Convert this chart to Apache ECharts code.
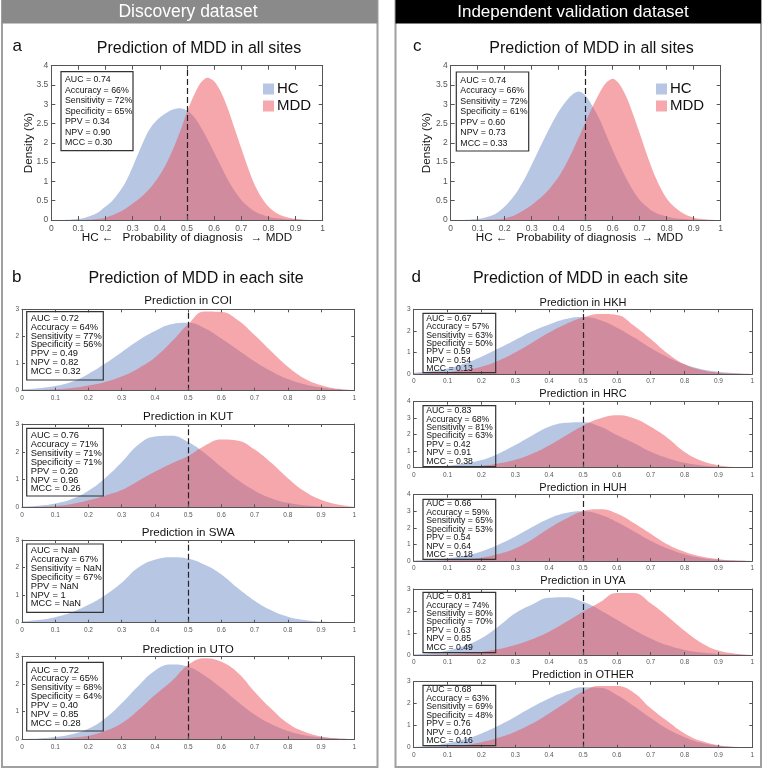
<!DOCTYPE html>
<html><head><meta charset="utf-8">
<script src="https://cdn.jsdelivr.net/npm/echarts@6/dist/echarts.min.js"></script>
<style>html,body{margin:0;padding:0;background:#fff}#c{width:763px;height:769px}</style>
</head><body><div id="c"></div><script>
// ---------- DATA ----------
const xs = [0,0.05,0.1,0.15,0.2,0.25,0.3,0.35,0.4,0.45,0.5,0.55,0.6,0.65,0.7,0.75,0.8,0.85,0.9,0.95,1];
const xsFine = [0,0.025,0.05,0.075,0.1,0.125,0.15,0.175,0.2,0.225,0.25,0.275,0.3,0.325,0.35,0.375,0.4,0.425,0.45,0.475,
  0.5,0.525,0.55,0.575,0.6,0.625,0.65,0.675,0.7,0.725,0.75,0.775,0.8,0.825,0.85,0.875,0.9,0.925,0.95,0.975,1];
const seriesNames = ['HC','MDD'];

const allDisc_HC  = [0,0,0,0.01,0.03,0.06,0.12,0.21,0.35,0.5,0.72,1.0,1.38,1.8,2.2,2.48,2.66,2.78,2.87,2.9,
  2.84,2.68,2.42,2.1,1.75,1.4,1.05,0.76,0.52,0.35,0.22,0.14,0.08,0.05,0.03,0.01,0.01,0,0,0,0];
const allDisc_MDD = [0,0,0,0,0,0,0.01,0.03,0.06,0.12,0.2,0.3,0.43,0.56,0.72,0.92,1.17,1.48,1.86,2.3,
  2.8,3.22,3.55,3.69,3.6,3.32,2.9,2.38,1.86,1.35,0.9,0.58,0.35,0.2,0.11,0.06,0.03,0.01,0,0,0];
const allVal_HC   = [0,0,0,0.01,0.03,0.06,0.11,0.2,0.35,0.54,0.78,1.08,1.43,1.8,2.16,2.5,2.81,3.06,3.25,3.33,
  3.22,2.95,2.63,2.22,1.81,1.43,1.08,0.77,0.52,0.35,0.22,0.14,0.09,0.05,0.03,0.02,0.01,0,0,0,0];
const allVal_MDD  = [0,0,0,0,0,0,0.01,0.02,0.04,0.09,0.17,0.27,0.39,0.53,0.69,0.89,1.12,1.42,1.77,2.15,
  2.55,2.93,3.28,3.55,3.66,3.52,3.2,2.75,2.25,1.73,1.25,0.86,0.56,0.36,0.22,0.12,0.06,0.03,0.01,0,0];

const COI_HC  = [0.05,0.09,0.17,0.33,0.62,1.0,1.42,1.85,2.2,2.45,2.5,2.3,1.92,1.5,1.08,0.72,0.43,0.24,0.12,0.05,0.02];
const COI_MDD = [0.01,0.02,0.05,0.1,0.19,0.32,0.52,0.82,1.22,1.8,2.45,2.92,2.9,2.6,2.05,1.45,0.88,0.45,0.2,0.07,0.02];
const KUT_HC  = [0.03,0.06,0.14,0.3,0.6,1.05,1.62,2.25,2.55,2.58,2.35,1.95,1.45,0.98,0.6,0.33,0.16,0.07,0.03,0.01,0];
const KUT_MDD = [0.01,0.02,0.05,0.12,0.25,0.42,0.62,0.95,1.28,1.58,1.85,2.22,2.44,2.4,2.08,1.6,1.05,0.58,0.27,0.1,0.03];
const SWA_HC  = [0.05,0.1,0.2,0.38,0.65,1.0,1.45,2.0,2.28,2.37,2.32,2.1,1.75,1.25,0.8,0.45,0.22,0.1,0.04,0.01,0];
const SWA_MDD = [];
const UTO_HC  = [0.01,0.03,0.08,0.18,0.38,0.75,1.3,1.93,2.48,2.7,2.62,2.3,1.85,1.35,0.9,0.55,0.3,0.15,0.07,0.03,0.01];
const UTO_MDD = [0,0.01,0.02,0.06,0.13,0.3,0.58,1.05,1.6,2.1,2.69,2.93,2.8,2.4,1.72,1.1,0.58,0.27,0.1,0.03,0.01];

const HKH_HC  = [0.06,0.13,0.26,0.48,0.8,1.18,1.58,1.98,2.3,2.55,2.64,2.5,2.15,1.7,1.2,0.78,0.45,0.22,0.1,0.04,0.01];
const HKH_MDD = [0.01,0.03,0.08,0.18,0.34,0.62,1.0,1.45,1.92,2.32,2.62,2.78,2.74,2.25,1.62,0.95,0.45,0.18,0.06,0.02,0];
const HRC_HC  = [0.03,0.06,0.12,0.25,0.46,0.85,1.37,1.95,2.48,2.72,2.76,2.5,1.98,1.5,0.97,0.58,0.3,0.14,0.06,0.02,0.01];
const HRC_MDD = [0,0.01,0.02,0.05,0.11,0.25,0.48,0.85,1.35,1.95,2.55,2.98,3.18,3.0,2.48,1.8,0.95,0.42,0.15,0.04,0.01];
const HUH_HC  = [0.03,0.07,0.16,0.32,0.58,0.98,1.48,2.05,2.57,2.9,3.0,2.8,2.35,1.8,1.22,0.75,0.4,0.18,0.07,0.02,0.01];
const HUH_MDD = [0,0.01,0.04,0.1,0.2,0.42,0.76,1.3,1.97,2.55,3.0,3.12,2.87,2.3,1.65,1.0,0.56,0.27,0.11,0.04,0.01];
const UYA_HC  = [0.03,0.08,0.2,0.42,0.76,1.3,1.9,2.3,2.6,2.63,2.42,2.05,1.6,1.15,0.75,0.44,0.23,0.11,0.05,0.02,0];
const UYA_MDD = [0,0.01,0.03,0.07,0.14,0.27,0.46,0.72,1.06,1.5,1.97,2.4,2.82,2.82,2.35,1.75,1.1,0.55,0.2,0.06,0.01];
const OTHER_HC  = [0.03,0.09,0.2,0.38,0.65,1.0,1.41,1.85,2.24,2.55,2.75,2.72,2.4,1.9,1.35,0.85,0.48,0.22,0.09,0.03,0.01];
const OTHER_MDD = [0,0.02,0.05,0.12,0.25,0.45,0.73,1.1,1.56,2.05,2.55,2.8,2.8,2.5,1.79,1.2,0.65,0.3,0.11,0.04,0.01];

const statLabels = ['AUC','Accuracy','Sensitivity','Specificity','PPV','NPV','MCC'];
const allDisc_stats = ['0.74','66%','72%','65%','0.34','0.90','0.30'];
const allVal_stats  = ['0.74','66%','72%','61%','0.60','0.73','0.33'];
const COI_stats = ['0.72','64%','77%','56%','0.49','0.82','0.32'];
const KUT_stats = ['0.76','71%','71%','71%','0.20','0.96','0.26'];
const SWA_stats = ['NaN','67%','NaN','67%','NaN','1','NaN'];
const UTO_stats = ['0.72','65%','68%','64%','0.40','0.85','0.28'];
const HKH_stats = ['0.67','57%','63%','50%','0.59','0.54','0.13'];
const HRC_stats = ['0.83','68%','81%','63%','0.42','0.91','0.38'];
const HUH_stats = ['0.66','59%','65%','53%','0.54','0.64','0.18'];
const UYA_stats = ['0.81','74%','80%','70%','0.63','0.85','0.49'];
const OTHER_stats = ['0.68','63%','69%','48%','0.76','0.40','0.16'];

const threshold = 0.5;

// ---------- LAYOUT / STYLE ----------
const FONT = "'Liberation Sans', Arial, Helvetica, sans-serif";
const HC_COLOR = 'rgb(109,141,199)';
const MDD_COLOR = 'rgb(236,80,90)';
const AX = '#555';

const plots = [
  {title:null, x:xsFine, hc:allDisc_HC, mdd:allDisc_MDD, st:allDisc_stats, ymax:4, yint:0.5, main:true,
   g:[51.3,65.7,271.4,154.3], box:[61,71.7,72,79], first:80, lh:10.5, fs:8.8, tx:4},
  {title:null, x:xsFine, hc:allVal_HC, mdd:allVal_MDD, st:allVal_stats, ymax:4, yint:0.5, main:true,
   g:[450.7,65.7,270,154.3], box:[456.3,72,72.4,79], first:80.3, lh:10.5, fs:8.8, tx:4},
  {title:'Prediction in COI', x:xs, hc:COI_HC, mdd:COI_MDD, st:COI_stats, ymax:3, yint:1,
   g:[22,309.3,332.3,81.4], box:[26.7,311.7,76.6,68.3], first:318.3, lh:8.85, fs:9.3, tx:4, ty:301, fsT:11.6},
  {title:'Prediction in KUT', x:xs, hc:KUT_HC, mdd:KUT_MDD, st:KUT_stats, ymax:3, yint:1,
   g:[22,424,332.3,83.3], box:[26.7,428.3,76.6,67.7], first:435.7, lh:8.85, fs:9.3, tx:4, ty:416.7, fsT:11.6},
  {title:'Prediction in SWA', x:xs, hc:SWA_HC, mdd:SWA_MDD, st:SWA_stats, ymax:3, yint:1,
   g:[22,540,332.3,82.7], box:[26.7,544,76.6,68.3], first:550.7, lh:8.85, fs:9.3, tx:4, ty:532.7, fsT:11.6},
  {title:'Prediction in UTO', x:xs, hc:UTO_HC, mdd:UTO_MDD, st:UTO_stats, ymax:3, yint:1,
   g:[22,656.3,332.3,83], box:[26.7,662.3,76.6,68.7], first:670, lh:8.85, fs:9.3, tx:4, ty:649.3, fsT:11.6},
  {title:'Prediction in HKH', x:xs, hc:HKH_HC, mdd:HKH_MDD, st:HKH_stats, ymax:3, yint:1,
   g:[413.7,309.3,338.6,64.7], box:[423,313.3,72.7,59.4], first:318.3, lh:8.45, fs:8.7, tx:3.3, ty:302.7, fsT:11},
  {title:'Prediction in HRC', x:xs, hc:HRC_HC, mdd:HRC_MDD, st:HRC_stats, ymax:4, yint:1,
   g:[413.7,401.7,338.6,66], box:[423,405.7,72.7,61], first:410.7, lh:8.45, fs:8.7, tx:3.3, ty:394.3, fsT:11},
  {title:'Prediction in HUH', x:xs, hc:HUH_HC, mdd:HUH_MDD, st:HUH_stats, ymax:4, yint:1,
   g:[413.7,494.7,338.6,66.3], box:[423,499.3,72.7,60], first:504, lh:8.45, fs:8.7, tx:3.3, ty:488.3, fsT:11},
  {title:'Prediction in UYA', x:xs, hc:UYA_HC, mdd:UYA_MDD, st:UYA_stats, ymax:3, yint:1,
   g:[413.7,589,338.6,66], box:[423,592.3,72.7,60.4], first:596.7, lh:8.45, fs:8.7, tx:3.3, ty:580.5, fsT:11},
  {title:'Prediction in OTHER', x:xs, hc:OTHER_HC, mdd:OTHER_MDD, st:OTHER_stats, ymax:3, yint:1,
   g:[413.7,681.7,338.6,66], box:[423,685.3,72.7,60.4], first:690, lh:8.45, fs:8.7, tx:3.3, ty:675, fsT:11}
];

const grids = [], xAxes = [], yAxes = [], series = [], graphics = [];

// panels and headers
graphics.push(
  {type:'rect', shape:{x:2,y:1,width:375.5,height:766}, style:{fill:'none',stroke:'#a0a0a0',lineWidth:2}, z:1},
  {type:'rect', shape:{x:2,y:0,width:375.5,height:23.5}, style:{fill:'#8a8a8a'}, z:2},
  {type:'text', x:188, y:12.3, style:{text:'Discovery dataset', fill:'#fff', font:'17.5px '+FONT, textAlign:'center', textVerticalAlign:'middle'}, z:3},
  {type:'rect', shape:{x:395.5,y:1,width:365.5,height:766}, style:{fill:'none',stroke:'#a0a0a0',lineWidth:2}, z:1},
  {type:'rect', shape:{x:395.5,y:0,width:365.5,height:23.5}, style:{fill:'#000'}, z:2},
  {type:'text', x:573, y:12.3, style:{text:'Independent validation dataset', fill:'#fff', font:'17px '+FONT, textAlign:'center', textVerticalAlign:'middle'}, z:3}
);
function txt(t, x, y, size, align, extra){
  return Object.assign({type:'text', x:x, y:y, z:20, style:{text:t, fill:'#111', font:size+'px '+FONT, textAlign:align||'left', textVerticalAlign:'middle'}}, extra||{});
}
graphics.push(
  txt('a', 12.5, 46.7, 17), txt('Prediction of MDD in all sites', 199, 48.7, 16, 'center'),
  txt('c', 413, 46.7, 17), txt('Prediction of MDD in all sites', 591.5, 48.7, 16, 'center'),
  txt('b', 12, 277.7, 17), txt('Prediction of MDD in each site', 196, 278.3, 16, 'center'),
  txt('d', 411.5, 277.7, 17), txt('Prediction of MDD in each site', 580.5, 278.3, 16, 'center'),
  txt('HC ←', 81.7, 237.8, 11.7), txt('Probability of diagnosis', 182.7, 237.8, 11.7, 'center'), txt('→ MDD', 250.7, 237.8, 11.7),
  txt('HC ←', 475.7, 237.8, 11.7), txt('Probability of diagnosis', 576.3, 237.8, 11.7, 'center'), txt('→ MDD', 641.7, 237.8, 11.7),
  txt('Density (%)', 29, 143, 11.7, 'center', {rotation:Math.PI/2}),
  txt('Density (%)', 426.3, 143, 11.7, 'center', {rotation:Math.PI/2})
);

plots.forEach((p, i) => {
  const [gl, gt, gw, gh] = p.g;
  grids.push({left:gl, top:gt, width:gw, height:gh, containLabel:false});
  const tickLen = p.main ? 4 : 3;
  const lab = p.main ? 8.5 : 6.5;
  const common = {gridIndex:i, type:'value', min:0, z:10, splitLine:{show:false},
    axisLine:{show:true, onZero:false, lineStyle:{color:AX, width:1}},
    axisTick:{show:true, inside:true, length:tickLen, lineStyle:{color:AX, width:1}}};
  xAxes.push(Object.assign({}, common, {max:1, interval:0.1, position:'bottom',
    axisLabel:{fontSize:lab, color:'#555', margin:4, fontFamily:FONT}}));
  xAxes.push(Object.assign({}, common, {max:1, interval:0.1, position:'top', axisLabel:{show:false}}));
  yAxes.push(Object.assign({}, common, {max:p.ymax, interval:p.yint, position:'left',
    axisLabel:{fontSize:lab, color:'#555', margin:3, fontFamily:FONT}}));
  yAxes.push(Object.assign({}, common, {max:p.ymax, interval:p.yint, position:'right', axisLabel:{show:false}}));
  const k = 2*i;
  const mk = {silent:true, symbol:['none','none'], label:{show:false}, animation:false,
    lineStyle:{color:'#222', type:[6,3], width:1.2}, data:[{xAxis:threshold}]};
  const defs = [[seriesNames[0], p.hc, HC_COLOR],[seriesNames[1], p.mdd, MDD_COLOR]].filter(d => d[1].length);
  defs.forEach((d, j) => {
    const s = {type:'line', name:d[0], xAxisIndex:k, yAxisIndex:k, smooth:p.main?0.3:0.45, showSymbol:false, symbol:'none',
      data: p.x.map((x, n) => [x, d[1][n]]), silent:true, z:2+j,
      lineStyle:{width:0, color:d[2]}, itemStyle:{color:d[2]},
      areaStyle:{color:d[2], opacity:0.5}};
    if (j === defs.length-1) s.markLine = mk;
    series.push(s);
  });
  // stats box
  const [bx, by, bw, bh] = p.box;
  graphics.push({type:'rect', z:15, shape:{x:bx, y:by, width:bw, height:bh}, style:{fill:'none', stroke:'#333', lineWidth:1.2}});
  graphics.push({type:'text', z:16, x:bx+p.tx, y:p.first - p.lh/2,
    style:{text: statLabels.map((l, n) => l + ' = ' + p.st[n]).join('\n'), fill:'#111',
      fontSize:p.fs, fontFamily:FONT, lineHeight:p.lh, textAlign:'left', textVerticalAlign:'top'}});
  if (p.title) graphics.push(txt(p.title, gl + gw/2, p.ty, p.fsT, 'center'));
});

const legendBase = {orient:'vertical', icon:'rect', itemWidth:11, itemHeight:11, itemGap:2, padding:0,
  selectedMode:false, textStyle:{fontSize:15, lineHeight:11, color:'#111', fontFamily:FONT, padding:[0,0,0,-2]},
  data:[{name:'HC', itemStyle:{color:'#b6c6e3'}}, {name:'MDD', itemStyle:{color:'#f5a8ad'}}]};
const legends = [Object.assign({}, legendBase, {left:263, top:81.5}), Object.assign({}, legendBase, {left:656, top:81.5})];

const chart = echarts.init(document.getElementById('c'), null, {renderer:'canvas'});
chart.setOption({animation:false, backgroundColor:'#fff', grid:grids, xAxis:xAxes, yAxis:yAxes,
  series:series, legend:legends, graphic:graphics});
</script></body></html>
